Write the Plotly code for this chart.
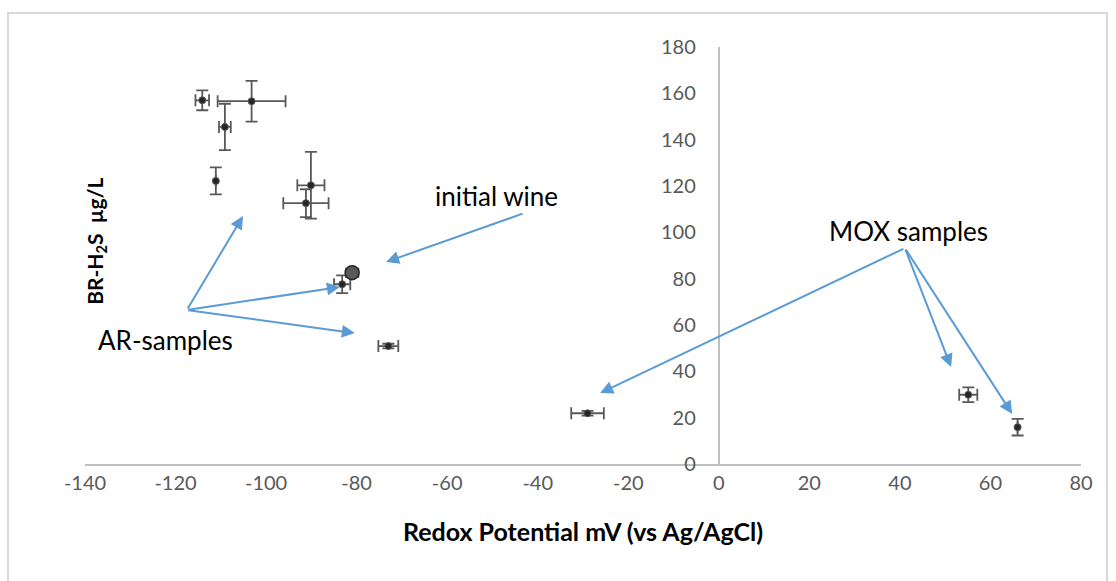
import plotly.graph_objects as go

# Data
x_vals = [-114.1, -103.2, -109.1, -111.1, -90.1, -91.2, -83.2, -73.0, -29.0, 55.1, 66.0]
y_vals = [157.0, 156.6, 145.5, 122.2, 120.3, 112.6, 77.6, 50.9, 21.9, 29.9, 15.9]
x_err = [1.5, 7.5, 1.3, 0.0, 3.0, 5.0, 1.8, 2.2, 3.6, 2.0, 0.0]
y_err = [4.3, 8.8, 10.0, 5.8, 14.4, 6.0, 3.8, 1.0, 1.0, 3.2, 3.6]

init_x = [-81.0]
init_y = [82.6]
init_xerr = [1.4]
init_yerr = [2.0]

x_ticks = list(range(-140, 81, 20))
x_tick_text = [str(v) for v in x_ticks]
y_ticks = list(range(0, 181, 20))
y_tick_text = [str(v) for v in y_ticks]

# annotation labels with (text_x, text_y) and arrow (tail -> heads) in data units
labels = [
    ("initial wine", -49.0, 115.7, (-43.0, 108.3), [(-73.5, 87.2)]),
    ("AR-samples", -122.3, 53.5, (-117.5, 66.5), [(-105.1, 107.0), (-83.7, 76.4), (-80.4, 56.5)]),
    ("MOX samples", 42.0, 100.6, (41.1, 93.2), [(-26.2, 30.6), (51.3, 41.9), (64.8, 21.6)]),
]

err_col = "#595959"
fig = go.Figure()
fig.add_trace(go.Scatter(
    x=x_vals, y=y_vals, mode="markers",
    marker=dict(size=7, color="#262626", line=dict(color="#595959", width=1)),
    error_x=dict(type="data", array=x_err, color=err_col, thickness=1.8, width=6),
    error_y=dict(type="data", array=y_err, color=err_col, thickness=1.8, width=6),
    showlegend=False, hoverinfo="x+y",
))
fig.add_trace(go.Scatter(
    x=init_x, y=init_y, mode="markers",
    marker=dict(size=14, color="#595959", line=dict(color="#262626", width=1.5)),
    error_x=dict(type="data", array=init_xerr, color=err_col, thickness=1.5, width=5),
    error_y=dict(type="data", array=init_yerr, color=err_col, thickness=1.5, width=5),
    showlegend=False,
))

font_fam = "Lato, 'Open Sans', sans-serif"
annotations = []
for text, tx, ty, tail, heads in labels:
    annotations.append(dict(x=tx, y=ty, xref="x", yref="y", text=text, showarrow=False,
                            font=dict(family=font_fam, size=26, color="#000000")))
    for hx, hy in heads:
        annotations.append(dict(x=hx, y=hy, xref="x", yref="y", ax=tail[0], ay=tail[1],
                                axref="x", ayref="y", text="", showarrow=True,
                                arrowhead=2, arrowsize=1.3, arrowwidth=2,
                                arrowcolor="#5B9BD5", standoff=0, startstandoff=0))
# y-axis title (placed at left as in reference)
annotations.append(dict(x=0.011, y=0.535, xref="paper", yref="paper", xanchor="center",
                        yanchor="middle",
                        text="<b>BR-H<sub>2</sub>S  µg/L</b>", showarrow=False, textangle=-90,
                        font=dict(family=font_fam, size=21, color="#000000")))

fig.update_layout(
    width=1116, height=581,
    margin=dict(l=85, r=35, t=47, b=117),
    paper_bgcolor="white", plot_bgcolor="white",
    font=dict(family=font_fam, color="#595959"),
    xaxis=dict(range=[-140, 80], tickvals=x_ticks, ticktext=x_tick_text, showgrid=False,
               zeroline=False, showline=True, linecolor="#BFBFBF", linewidth=2, ticks="",
               tickfont=dict(size=20, color="#595959"),
               title=dict(text="<b>Redox Potential mV (vs Ag/AgCl)</b>",
                          font=dict(size=25, color="#000000"), standoff=30)),
    yaxis=dict(range=[0, 180], tickvals=y_ticks, ticktext=y_tick_text, showgrid=False,
               zeroline=False, showline=True, linecolor="#BFBFBF", linewidth=2, ticks="",
               anchor="free", position=140 / 220, ticklabelstandoff=18,
               tickfont=dict(size=20, color="#595959")),
    annotations=annotations,
    shapes=[dict(type="rect", xref="paper", yref="paper", x0=-77 / 996, x1=1.0 + 26 / 996,
                 y0=-118 / 417, y1=1.0 + 34 / 417, line=dict(color="#D9D9D9", width=2))],
)
fig.write_html("out.html")
